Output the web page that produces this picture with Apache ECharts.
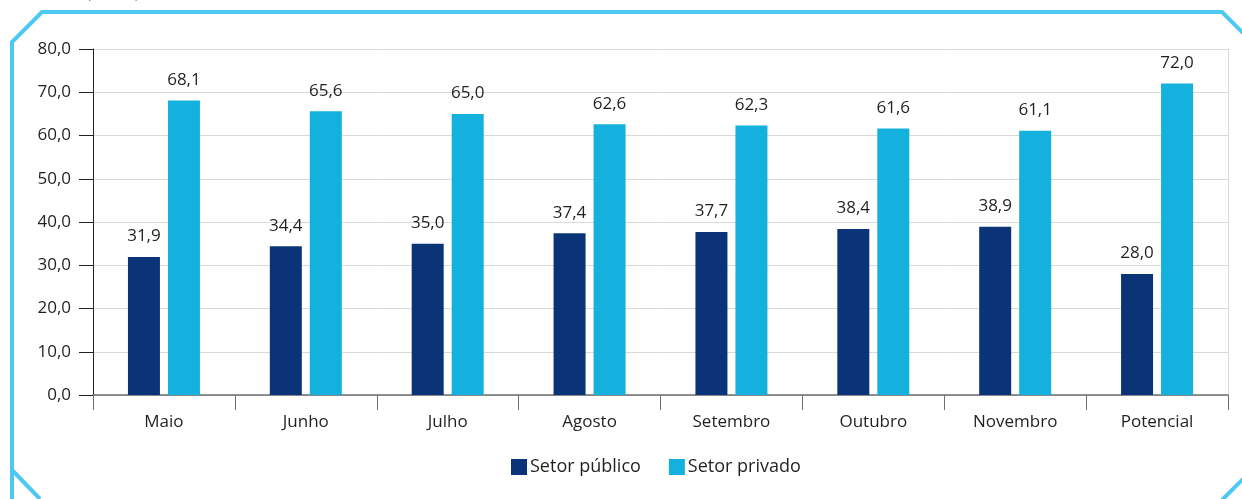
<!DOCTYPE html>
<html>
<head>
<meta charset="utf-8">
<script src="https://cdn.jsdelivr.net/npm/echarts@6/dist/echarts.min.js"></script>
<style>
  html, body { margin: 0; padding: 0; background: #fff; }
  #chart { width: 1242px; height: 499px; }
</style>
</head>
<body>
<div id="chart"></div>
<script>
const months = ['Maio', 'Junho', 'Julho', 'Agosto', 'Setembro', 'Outubro', 'Novembro', 'Potencial']
const publicSector = [31.9, 34.4, 35.0, 37.4, 37.7, 38.4, 38.9, 28.0]
const privateSector = [68.1, 65.6, 65.0, 62.6, 62.3, 61.6, 61.1, 72.0]

const FONT = '"Open Sans", "Noto Sans", sans-serif'
const TEXT = '#231f20'
const fmt = (v) => v.toFixed(1).replace('.', ',')

const chart = echarts.init(document.getElementById('chart'))

const barLabel = {
  show: true,
  position: 'top',
  distance: 12,
  color: TEXT,
  fontFamily: FONT,
  fontSize: 17,
  formatter: (p) => fmt(p.value),
}

chart.setOption({
  animation: false,
  textStyle: { fontFamily: FONT },
  grid: { left: 93, right: 14, top: 49, bottom: 104, containLabel: false },
  legend: {
    bottom: 18,
    left: 506,
    itemWidth: 16,
    itemHeight: 16,
    itemGap: 28,
    icon: 'rect',
    textStyle: { color: TEXT, fontSize: 18, fontFamily: FONT, padding: [0, 0, 0, -2] },
  },
  graphic: [
    {
      type: 'polyline',
      silent: true,
      shape: {
        points: [[12, 505], [12, 42], [42, 12], [1222, 12], [1250, 40]],
      },
      style: { stroke: '#4cc8f2', lineWidth: 4, fill: null },
    },
    {
      type: 'line',
      silent: true,
      shape: { x1: 12, y1: 470, x2: 40, y2: 499 },
      style: { stroke: '#4cc8f2', lineWidth: 4 },
    },
    {
      type: 'line',
      silent: true,
      shape: { x1: 1250, y1: 472, x2: 1222, y2: 500 },
      style: { stroke: '#4cc8f2', lineWidth: 4 },
    },
    {
      type: 'text',
      silent: true,
      left: 86,
      top: -15,
      style: { text: '(em %)', fill: TEXT, fontSize: 17, fontFamily: FONT },
    },
  ],
  xAxis: {
    type: 'category',
    data: months,
    axisLine: { lineStyle: { color: '#6d6e71', width: 1.5 } },
    axisTick: { show: true, length: 15, alignWithLabel: false, lineStyle: { color: '#6d6e71' } },
    axisLabel: { color: TEXT, fontSize: 17, fontFamily: FONT, margin: 19 },
  },
  yAxis: [
    {
      type: 'value',
      min: 0,
      max: 80,
      interval: 10,
      axisLine: { show: true, lineStyle: { color: '#231f20' } },
      axisTick: { show: true, inside: false, length: 14, lineStyle: { color: '#231f20' } },
      axisLabel: { color: TEXT, fontSize: 17, fontFamily: FONT, margin: 22, formatter: (v) => fmt(v) },
      splitLine: { lineStyle: { color: '#d9d9d9' } },
    },
    {
      type: 'value',
      min: 0,
      max: 80,
      interval: 10,
      position: 'right',
      axisLine: { show: true, lineStyle: { color: '#d9d9d9' } },
      axisTick: { show: false },
      axisLabel: { show: false },
      splitLine: { show: false },
    },
  ],
  series: [
    {
      name: 'Setor público',
      type: 'bar',
      data: publicSector,
      barWidth: 32,
      barGap: '25%',
      itemStyle: { color: '#0b3478' },
      label: barLabel,
    },
    {
      name: 'Setor privado',
      type: 'bar',
      data: privateSector,
      barWidth: 32,
      itemStyle: { color: '#14b1de' },
      label: barLabel,
    },
  ],
})
</script>
</body>
</html>
